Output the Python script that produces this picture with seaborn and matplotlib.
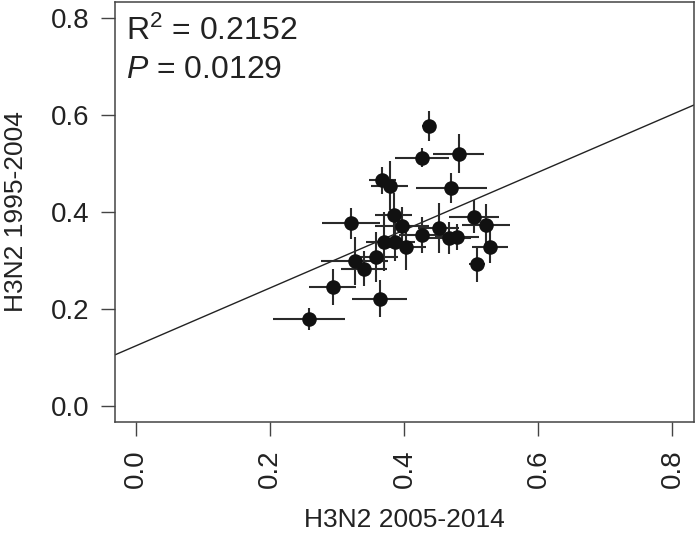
import numpy as np
import pandas as pd
import seaborn as sns
import matplotlib.pyplot as plt

# values
x_2005_2014 = [0.436, 0.426, 0.481, 0.367, 0.378, 0.470, 0.384, 0.320, 0.396,
               0.504, 0.522, 0.451, 0.427, 0.467, 0.478, 0.370, 0.386, 0.403,
               0.528, 0.357, 0.326, 0.340, 0.508, 0.293, 0.363, 0.258]
y_1995_2004 = [0.577, 0.512, 0.520, 0.465, 0.454, 0.449, 0.394, 0.377, 0.371,
               0.390, 0.373, 0.367, 0.353, 0.346, 0.348, 0.339, 0.339, 0.329,
               0.329, 0.308, 0.299, 0.283, 0.293, 0.245, 0.222, 0.180]
x_err = [0.010, 0.040, 0.038, 0.020, 0.028, 0.053, 0.028, 0.043, 0.040,
         0.037, 0.036, 0.030, 0.035, 0.032, 0.033, 0.027, 0.030, 0.030,
         0.027, 0.034, 0.050, 0.034, 0.012, 0.035, 0.041, 0.054]
y_err = [0.030, 0.020, 0.040, 0.028, 0.050, 0.031, 0.046, 0.032, 0.039,
         0.034, 0.044, 0.052, 0.037, 0.033, 0.027, 0.060, 0.040, 0.048,
         0.034, 0.051, 0.049, 0.036, 0.037, 0.037, 0.038, 0.022]
fit_intercept = 0.125
fit_slope = 0.595
r2_text = "R$^2$ = 0.2152"
p_text = "$\\it{P}$ = 0.0129"
ticks = [0.0, 0.2, 0.4, 0.6, 0.8]

df = pd.DataFrame({"x": x_2005_2014, "y": y_1995_2004, "xerr": x_err, "yerr": y_err})

sns.set_style("ticks")
plt.rcParams['font.family'] = ['Liberation Sans', 'DejaVu Sans']
plt.rcParams['mathtext.fontset'] = 'custom'
plt.rcParams['mathtext.rm'] = 'Liberation Sans'
plt.rcParams['mathtext.it'] = 'Liberation Sans:italic'

fig = plt.figure(figsize=(6.96, 5.36), dpi=100)
ax = fig.add_axes([0.165, 0.2127, 0.832, 0.7836])

ax.errorbar(df["x"], df["y"], xerr=df["xerr"], yerr=df["yerr"], fmt="none",
            ecolor="#2a2a2a", elinewidth=1.5, capsize=0, zorder=2)
sns.scatterplot(data=df, x="x", y="y", ax=ax, s=110, color="#111111",
                edgecolor="#111111", linewidth=0, zorder=3)
ax.axline((0, fit_intercept), slope=fit_slope, color="#222222", lw=1.0, zorder=1)

ax.set_xlim(-0.032, 0.832)
ax.set_ylim(-0.032, 0.832)
ax.set_xticks(ticks)
ax.set_yticks(ticks)
ax.set_xticklabels([f"{t:.1f}" for t in ticks], rotation=90)
ax.set_yticklabels([f"{t:.1f}" for t in ticks])
ax.tick_params(axis="both", length=10, width=1.0, color="#444444",
               labelsize=20, labelcolor="#222222", pad=8)
ax.tick_params(axis="x", pad=10)
for sp in ax.spines.values():
    sp.set_visible(True)
    sp.set_color("#444444")
    sp.set_linewidth(1.1)

ax.set_xlabel("H3N2 2005-2014", fontsize=19, color="#222222")
ax.set_ylabel("H3N2 1995-2004", fontsize=19, color="#222222")
ax.xaxis.set_label_coords(0.5, -0.205)
ax.yaxis.set_label_coords(-0.150, 0.5)

ax.text(0.02, 0.91, r2_text, transform=ax.transAxes, fontsize=23, color="#222222")
ax.text(0.02, 0.82, p_text, transform=ax.transAxes, fontsize=23, color="#222222")

fig.savefig("out.png", dpi=100)
